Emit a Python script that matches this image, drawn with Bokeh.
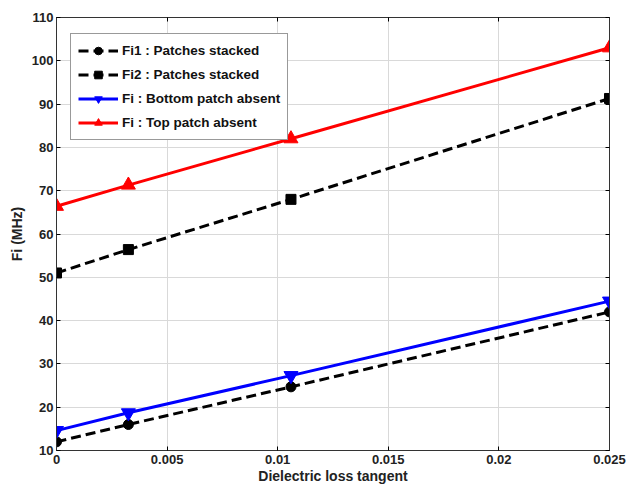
from bokeh.plotting import figure
from bokeh.models import FixedTicker, LinearAxis, Legend, LegendItem, Range1d
from bokeh.embed import file_html
from bokeh.resources import INLINE

x_vals = [0.0, 0.00325, 0.0106, 0.025]
fi1_stacked = [12.0, 16.0, 24.7, 42.0]
fi2_stacked = [51.0, 56.4, 68.0, 91.3]
fi_bottom_absent = [14.6, 18.7, 27.3, 44.5]
fi_top_absent = [66.4, 71.3, 82.0, 103.0]
x_ticks = [0, 0.005, 0.01, 0.015, 0.02, 0.025]
x_tick_labels = ["0", "0.005", "0.01", "0.015", "0.02", "0.025"]
y_ticks = [10, 20, 30, 40, 50, 60, 70, 80, 90, 100, 110]

FONT = "Liberation Sans"

p = figure(width=627, height=486, output_backend="svg", toolbar_location=None,
           x_range=Range1d(0, 0.025), y_range=Range1d(10, 110),
           min_border_left=56, min_border_right=18, min_border_top=17, min_border_bottom=33)
p.background_fill_color = "white"
p.border_fill_color = "white"
p.outline_line_color = "#333333"
p.outline_line_width = 1

for ax in (p.xaxis[0], p.yaxis[0]):
    ax.major_label_text_font = FONT
    ax.major_label_text_font_style = "bold"
    ax.major_label_text_font_size = "13px"
    ax.major_label_text_color = "#222222"
    ax.axis_label_text_font = FONT
    ax.axis_label_text_font_style = "bold"
    ax.axis_label_text_font_size = "14px"
    ax.axis_label_text_color = "#222222"
    ax.major_tick_in = 4
    ax.major_tick_out = 0
    ax.minor_tick_line_color = None
    ax.axis_line_color = "#333333"

p.xaxis.ticker = FixedTicker(ticks=x_ticks)
p.xaxis.major_label_overrides = {t: l for t, l in zip(x_ticks, x_tick_labels)}
p.yaxis.ticker = FixedTicker(ticks=y_ticks)
p.xaxis.axis_label = "Dielectric loss tangent"
p.yaxis.axis_label = "Fi (MHz)"
p.xaxis.axis_label_standoff = 1
p.yaxis.axis_label_standoff = 4
p.xaxis.major_label_standoff = 4
p.yaxis.major_label_standoff = 3

top_ax = LinearAxis(ticker=FixedTicker(ticks=x_ticks),
                    major_label_overrides={t: "" for t in x_ticks},
                    major_tick_in=4, major_tick_out=0, minor_tick_line_color=None,
                    axis_line_color="#333333")
right_ax = LinearAxis(ticker=FixedTicker(ticks=y_ticks),
                      major_label_overrides={t: "" for t in y_ticks},
                      major_tick_in=4, major_tick_out=0, minor_tick_line_color=None,
                      axis_line_color="#333333")
p.add_layout(top_ax, "above")
p.add_layout(right_ax, "right")

p.xgrid.ticker = FixedTicker(ticks=x_ticks)
p.ygrid.ticker = FixedTicker(ticks=y_ticks)
p.grid.grid_line_color = "#d9d9d9"
p.grid.grid_line_width = 1

lw = 3
dash = "10 5"
r1l = p.line(x_vals, fi1_stacked, line_color="black", line_width=lw, line_dash=dash)
r1m = p.scatter(x_vals, fi1_stacked, marker="circle", size=10, fill_color="black", line_color="black")
r2l = p.line(x_vals, fi2_stacked, line_color="black", line_width=lw, line_dash=dash)
r2m = p.scatter(x_vals, fi2_stacked, marker="square", size=10, fill_color="black", line_color="black")
r3l = p.line(x_vals, fi_bottom_absent, line_color="blue", line_width=lw)
r3m = p.scatter(x_vals, fi_bottom_absent, marker="inverted_triangle", size=14, fill_color="blue", line_color="blue")
r4l = p.line(x_vals, fi_top_absent, line_color="red", line_width=lw)
r4m = p.scatter(x_vals, fi_top_absent, marker="triangle", size=14, fill_color="red", line_color="red")

legend = Legend(items=[
    LegendItem(label="Fi1 : Patches stacked", renderers=[r1l, r1m]),
    LegendItem(label="Fi2 : Patches stacked", renderers=[r2l, r2m]),
    LegendItem(label="Fi : Bottom patch absent", renderers=[r3l, r3m]),
    LegendItem(label="Fi : Top patch absent", renderers=[r4l, r4m]),
], location=(14, 310))
legend.label_text_font = FONT
legend.label_text_font_style = "bold"
legend.label_text_font_size = "13.5px"
legend.label_text_color = "#111111"
legend.glyph_width = 40
legend.glyph_height = 19
legend.label_height = 19
legend.spacing = 5
legend.padding = 7
legend.margin = 0
legend.label_standoff = 4
legend.border_line_color = "#333333"
legend.border_line_width = 1
legend.background_fill_color = "white"
legend.background_fill_alpha = 1
p.add_layout(legend, "center")

open("out.html", "w").write(file_html(p, INLINE))
